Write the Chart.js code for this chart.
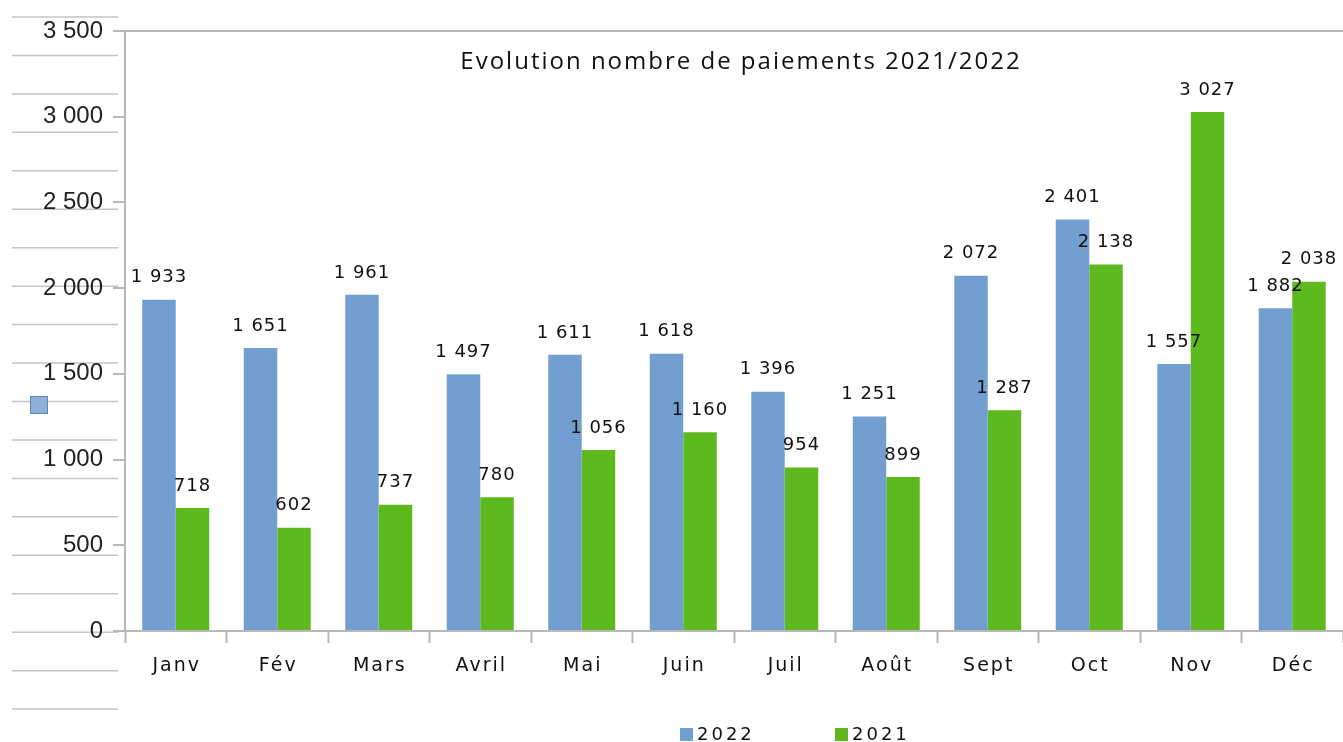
<!DOCTYPE html>
<html>
<head>
<meta charset="utf-8">
<script src="https://cdn.jsdelivr.net/npm/chart.js@4/dist/chart.umd.min.js"></script>
<style>
  html, body { margin: 0; padding: 0; background: #fff; }
  #wrap { width: 1343px; height: 742px; }
</style>
</head>
<body>
<div id="wrap"><canvas id="myChart" width="1343" height="742"></canvas></div>
<script>
// data
const months = ["Janv", "Fév", "Mars", "Avril", "Mai", "Juin", "Juil", "Août", "Sept", "Oct", "Nov", "Déc"];
const values2022 = [1933, 1651, 1961, 1497, 1611, 1618, 1396, 1251, 2072, 2401, 1557, 1882];
const values2021 = [718, 602, 737, 780, 1056, 1160, 954, 899, 1287, 2138, 3027, 2038];
const chartTitle = "Evolution nombre de paiements 2021/2022";

const BLUE = "#729fcf";
const GREEN = "#5eb91e";
const AXIS = "#b8b8b8";

function fmt(v) {
    return String(v).replace(/\B(?=(\d{3})+(?!\d))/g, " ");
}

// spreadsheet rows behind the chart
const sheetBackground = {
    id: "sheetBackground",
    beforeDraw(chart) {
        const ctx = chart.ctx;
        ctx.save();
        ctx.fillStyle = "#fff";
        ctx.fillRect(0, 0, chart.width, chart.height);
        ctx.strokeStyle = "#c4c4c4";
        ctx.lineWidth = 1.5;
        for (let y = 17; y < chart.height; y += 38.45) {
            ctx.beginPath();
            ctx.moveTo(12, y);
            ctx.lineTo(118, y);
            ctx.stroke();
        }
        // stray legend glyph
        ctx.fillStyle = "#8fb1d9";
        ctx.strokeStyle = "#5f86b8";
        ctx.lineWidth = 1;
        ctx.fillRect(30, 396, 17, 17);
        ctx.strokeRect(30.5, 396.5, 17, 17);
        ctx.restore();
    }
};

// value labels, month labels, title and legend
const annotations = {
    id: "annotations",
    afterDatasetsDraw(chart) {
        const ctx = chart.ctx;
        ctx.save();
        ctx.font = "18px 'DejaVu Sans'";
        ctx.letterSpacing = "1px";
        ctx.fillStyle = "#111";
        ctx.textAlign = "center";
        ctx.textBaseline = "middle";
        chart.data.datasets.forEach((ds, i) => {
            chart.getDatasetMeta(i).data.forEach((bar, j) => {
                ctx.fillText(fmt(ds.data[j]), bar.x, bar.y - 22);
            });
        });
        ctx.restore();
    },
    afterDraw(chart) {
        const ctx = chart.ctx;
        const area = chart.chartArea;
        const xScale = chart.scales.x;
        ctx.save();

        // month labels
        ctx.font = "19px 'DejaVu Sans'";
        ctx.letterSpacing = "2px";
        ctx.fillStyle = "#111";
        ctx.textAlign = "center";
        ctx.textBaseline = "middle";
        months.forEach((m, i) => {
            ctx.fillText(m, xScale.getPixelForValue(i) + 1, xScale.top + 35);
        });

        // title
        ctx.letterSpacing = "2px";
        ctx.font = "24px 'Open Sans'";
        ctx.fillText(chartTitle, (area.left + area.right) / 2 + 7, 62);

        // legend
        ctx.font = "18px 'DejaVu Sans'";
        ctx.letterSpacing = "3px";
        ctx.textAlign = "left";
        const legendX = [680, 835];
        chart.data.datasets.forEach((ds, i) => {
            ctx.fillStyle = ds.backgroundColor;
            ctx.fillRect(legendX[i], 728, 13, 13);
            ctx.fillStyle = "#111";
            ctx.fillText(ds.label, legendX[i] + 17, 735);
        });
        ctx.restore();
    }
};

const ctx1 = document.getElementById("myChart").getContext("2d");

new Chart(ctx1, {
    type: "bar",
    data: {
        labels: months,
        datasets: [
            {
                label: "2022",
                data: values2022,
                backgroundColor: BLUE,
                categoryPercentage: 0.66,
                barPercentage: 1
            },
            {
                label: "2021",
                data: values2021,
                backgroundColor: GREEN,
                categoryPercentage: 0.66,
                barPercentage: 1
            }
        ]
    },
    options: {
        responsive: false,
        animation: false,
        layout: { padding: { top: 31, left: 0, right: 0, bottom: 0 } },
        plugins: {
            legend: { display: false },
            title: { display: false },
            tooltip: { enabled: false }
        },
        scales: {
            x: {
                grid: {
                    offset: true,
                    drawOnChartArea: false,
                    tickLength: 12,
                    tickColor: AXIS,
                    tickWidth: 2
                },
                border: { color: AXIS, width: 2 },
                ticks: { display: false },
                afterFit(scale) { scale.height = 111; }
            },
            y: {
                min: 0,
                max: 3500,
                grid: {
                    color: (c) => c.tick && c.tick.value === 3500 ? AXIS : "transparent",
                    lineWidth: 2,
                    tickLength: 12,
                    tickColor: AXIS,
                    tickWidth: 2
                },
                border: { color: AXIS, width: 2 },
                ticks: {
                    stepSize: 500,
                    color: "#222",
                    padding: 10,
                    font: { family: "Liberation Sans", size: 24 },
                    callback: (v) => fmt(v)
                },
                afterFit(scale) { scale.width = 125; }
            }
        }
    },
    plugins: [sheetBackground, annotations]
});
</script>
</body>
</html>
